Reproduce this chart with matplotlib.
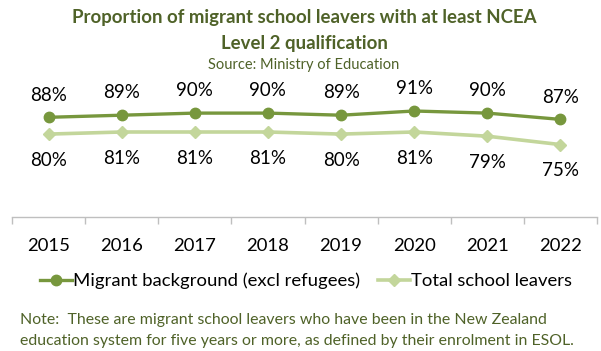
import matplotlib.pyplot as plt

plt.rcParams['font.family'] = ['Lato', 'DejaVu Sans']

years = ["2015", "2016", "2017", "2018", "2019", "2020", "2021", "2022"]
migrant = [88, 89, 90, 90, 89, 91, 90, 87]
total = [80, 81, 81, 81, 80, 81, 79, 75]

dark_olive = "#4f6228"
migrant_col = "#77973d"
total_col = "#c3d69b"

fig = plt.figure(figsize=(6.01, 3.51), dpi=100)
# axes placed in figure pixels: left 12, right 597, bottom y=217, top y=60
W, H = 601, 351
ax = fig.add_axes([12 / W, 1 - 217 / H, (597 - 12) / W, (217 - 60) / H])

x = list(range(len(years)))
ax.plot(x, total, color=total_col, lw=2.6, marker="D", ms=6.5, label="Total school leavers", zorder=2)
ax.plot(x, migrant, color=migrant_col, lw=2.4, marker="o", ms=7.5, label="Migrant background (excl refugees)", zorder=3)

for i, v in enumerate(migrant):
    ax.annotate(f"{v}%", (i, v), xytext=(0, 16), textcoords="offset points",
                ha="center", va="center", fontsize=13.5, color="black")
for i, v in enumerate(total):
    ax.annotate(f"{v}%", (i, v), xytext=(0, -19), textcoords="offset points",
                ha="center", va="center", fontsize=13.5, color="black")

ax.set_xlim(-0.5, 7.5)
ax.set_ylim(40.5, 115.3)
ax.set_yticks([])
for s in ["top", "right", "left"]:
    ax.spines[s].set_visible(False)
ax.spines["bottom"].set_color("#bfbfbf")
ax.spines["bottom"].set_linewidth(1)

ax.set_xticks(x)
ax.set_xticklabels(years, fontsize=13.3)
ax.tick_params(axis="x", length=0, pad=15)
ax.set_xticks([i - 0.5 for i in range(len(years) + 1)], minor=True)
ax.tick_params(axis="x", which="minor", length=5, color="#bfbfbf", width=1)

# title block
cx = 304 / W
fig.text(cx, 1 - 18 / H, "Proportion of migrant school leavers with at least NCEA",
         ha="center", va="center", fontsize=13.4, fontweight="bold", color=dark_olive)
fig.text(cx, 1 - 43 / H, "Level 2 qualification",
         ha="center", va="center", fontsize=13.4, fontweight="bold", color=dark_olive)
fig.text(cx, 1 - 65 / H, "Source: Ministry of Education",
         ha="center", va="center", fontsize=10.5, color=dark_olive)

handles, labels = ax.get_legend_handles_labels()
fig.legend(handles[::-1], labels[::-1], loc="center", bbox_to_anchor=(306 / W, 1 - 281 / H),
           ncol=2, frameon=False, fontsize=13.3, handlelength=1.7, handletextpad=0.05,
           columnspacing=1.0)

fig.text(20 / W, 1 - 320 / H, "Note:  These are migrant school leavers who have been in the New Zealand",
         ha="left", va="center", fontsize=11.4, color=dark_olive)
fig.text(20 / W, 1 - 341 / H, "education system for five years or more, as defined by their enrolment in ESOL.",
         ha="left", va="center", fontsize=11.4, color=dark_olive)

fig.savefig("out.png", dpi=100)
